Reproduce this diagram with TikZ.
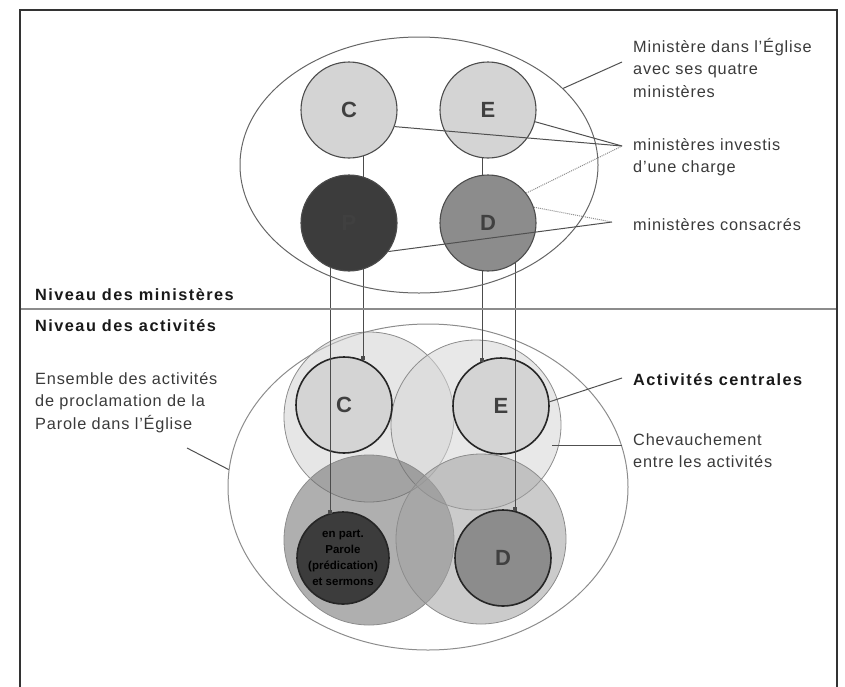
\documentclass[tikz,border=0pt]{standalone}
\usepackage{fontspec}
\setmainfont{Liberation Sans}
\newfontfamily\labfont[LetterSpace=5,Ligatures=TeX]{Liberation Sans}
\newfontfamily\blabfont[LetterSpace=9,Ligatures=TeX]{Liberation Sans}
\usetikzlibrary{shapes.geometric,arrows.meta}
\definecolor{lightc}{HTML}{D4D4D4}
\definecolor{darkc}{HTML}{3C3C3C}
\definecolor{midc}{HTML}{8C8C8C}
\definecolor{linec}{HTML}{505050}
\definecolor{txt}{HTML}{3A3A3A}
\pgfdeclarelayer{back}
\pgfdeclarelayer{mid}
\pgfsetlayers{back,mid,main}
\begin{document}
\begin{tikzpicture}[x=1pt,y=-1pt,
  ring/.style={circle, minimum size=96pt, inner sep=0pt, draw=black!70, line width=1.1pt,
    font=\fontsize{22}{22}\selectfont\bfseries, text=black!75},
  core/.style={circle, minimum size=96pt, inner sep=0pt, draw=black!85, line width=1.6pt,
    font=\fontsize{22}{22}\selectfont\bfseries, text=black!75},
  big/.style={circle, minimum size=170pt, inner sep=0pt, draw=black!45, line width=0.8pt, fill opacity=0.55},
  lab/.style={font=\fontsize{16.3}{22.5}\selectfont\labfont, text=txt, align=left, inner sep=0pt},
  blab/.style={lab, font=\fontsize{16.3}{22.5}\selectfont\blabfont\bfseries, text=black!90},
  lead/.style={draw=linec, line width=1pt},
  vline/.style={draw=black!70, line width=0.8pt, -{Square[length=4pt,width=4pt]}}
]
\useasboundingbox (0,0) rectangle (845,686);
\clip (0,0) rectangle (845,686);
% frame
\draw[line width=1.6pt, black!80] (20,700) -- (20,10) -- (837,10) -- (837,700);
\draw[line width=1.8pt, black!45] (21,309) -- (836,309);
\node[blab, anchor=west] (nm) at (35,295) {Niveau des ministères};
\node[blab, anchor=west] (na) at (35,326) {Niveau des activités};

% ---------- upper level ----------
\node[ellipse, draw=black!60, line width=1pt, minimum width=358pt, minimum height=256pt, inner sep=0pt] (UE) at (419,165) {};
\node[ring, fill=lightc] (C) at (349,110) {C};
\node[ring, fill=lightc] (E) at (488,110) {E};
\node[ring, fill=darkc] (P) at (349,223) {P};
\node[ring, fill=midc] (D) at (488,223) {D};

\node[lab, anchor=north west] (l1) at (633,38) {Ministère dans l'Église\\avec ses quatre\\ministères};
\node[lab, anchor=north west] (l2) at (633,138) {ministères investis\\d'une charge};
\node[lab, anchor=west] (l3) at (633,225) {ministères consacrés};
\coordinate (p1) at (622,62);
\coordinate (ic) at (622,146);
\coordinate (cc) at (612,222);
\draw[lead] (UE.28) -- (p1);
\draw[lead] (C.-20) -- (ic);
\draw[lead] (E.-14) -- (ic);
\draw[lead, densely dotted, draw=black!45] (D.38) -- (ic);
\draw[lead] (P.-36) -- (cc);
\draw[lead, densely dotted, draw=black!45] (D.19) -- (cc);

% ---------- lower level ----------
\begin{pgfonlayer}{back}
\node[ellipse, draw=black!45, line width=1pt, minimum width=400pt, minimum height=326pt, inner sep=0pt] (LE) at (428,487) {};
\node[big, fill=black!18] (TL) at (369,417) {};
\node[big, fill=black!16] (TR) at (476,425) {};
\node[big, fill=black!57] (BL) at (369,540) {};
\node[big, fill=black!37] (BR) at (481,539) {};
\node[core, fill=lightc] (lC) at (344,405) {C};
\node[core, fill=lightc] (lE) at (501,406) {E};
\node[core, fill=darkc, minimum size=92pt, font=\fontsize{11.5}{16}\selectfont\bfseries, text=black, align=center] (lP) at (343,558) {en part.\\Parole\\(prédication)\\et sermons};
\node[core, fill=midc] (lD) at (503,558) {D};
\end{pgfonlayer}

\begin{pgfonlayer}{mid}
\draw[vline] (C.-73) -- (C.-73 |- lC.67);
\draw[vline] (P.-113) -- (P.-113 |- lP.108);
\draw[vline] (E.-97) -- (E.-97 |- lE.115);
\draw[vline] (D.-56) -- (D.-56 |- lD.75);
\end{pgfonlayer}

\node[lab, anchor=north west] (l4) at (35,372) {Ensemble des activités\\de proclamation de la\\Parole dans l'Église};
\node[blab, anchor=west] (l5) at (633,380) {Activités centrales};
\node[lab, anchor=north west] (l6) at (633,433) {Chevauchement\\entre les activités};
\coordinate (q4) at (187,448);
\coordinate (q5) at (622,378);
\coordinate (q6) at (622,445);
\coordinate (ov) at (552,445);
\draw[lead] (q4) -- (LE.175);
\draw[lead] (q5) -- (lE.5);
\draw[lead] (q6) -- (ov);
\end{tikzpicture}
\end{document}
